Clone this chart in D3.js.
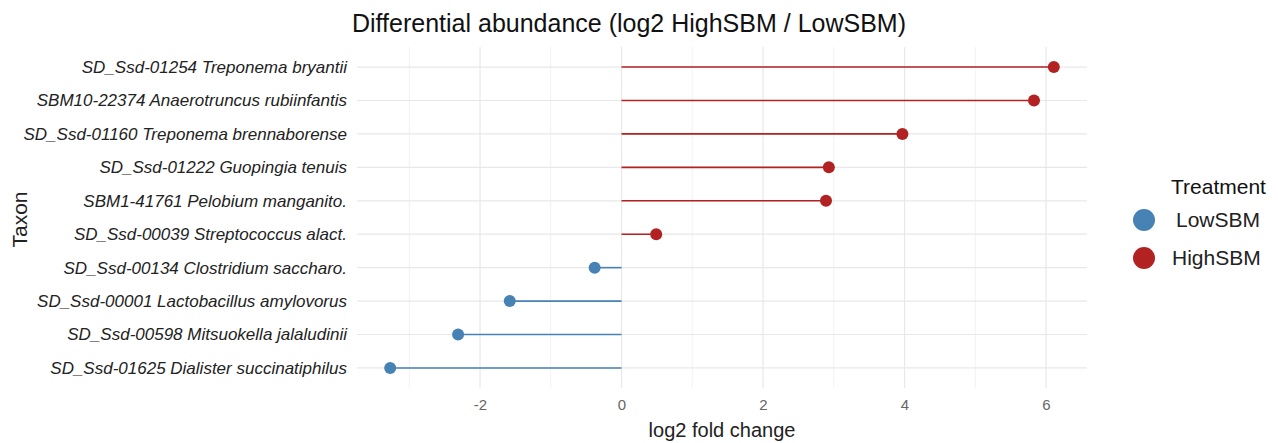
<!DOCTYPE html>
<html>
<head>
<meta charset="utf-8">
<script src="https://cdn.jsdelivr.net/npm/d3@7"></script>
<style>
  body { margin: 0; background: #fff; }
  text { font-family: "Liberation Sans", Arial, sans-serif; }
</style>
</head>
<body>
<div id="chart"></div>
<script>
// Data (top row first)
const taxa = [
    "SD_Ssd-01254 Treponema bryantii",
    "SBM10-22374 Anaerotruncus rubiinfantis",
    "SD_Ssd-01160 Treponema brennaborense",
    "SD_Ssd-01222 Guopingia tenuis",
    "SBM1-41761 Pelobium manganito.",
    "SD_Ssd-00039 Streptococcus alact.",
    "SD_Ssd-00134 Clostridium saccharo.",
    "SD_Ssd-00001 Lactobacillus amylovorus",
    "SD_Ssd-00598 Mitsuokella jalaludinii",
    "SD_Ssd-01625 Dialister succinatiphilus"
];
const log2fc = [6.11, 5.83, 3.97, 2.93, 2.89, 0.49, -0.38, -1.58, -2.31, -3.27];
const groups = ["LowSBM", "HighSBM"];
const groupColors = ["#4682B4", "#B22222"];
const majorTicks = [-2, 0, 2, 4, 6];
const minorTicks = [-3, -1, 1, 3, 5];

const data = taxa.map((t, i) => ({
    taxon: t,
    value: log2fc[i],
    group: log2fc[i] >= 0 ? "HighSBM" : "LowSBM"
}));

const W = 1278, H = 443;
const margin = { top: 47, right: 191, bottom: 55, left: 357 };
const width = W - margin.left - margin.right;
const height = H - margin.top - margin.bottom;

const svg = d3.select("#chart").append("svg")
    .attr("width", W)
    .attr("height", H);

const g = svg.append("g")
    .attr("transform", "translate(" + margin.left + "," + margin.top + ")");

// ggplot-like 5% expansion on x
const ext = d3.extent(log2fc);
const pad = (ext[1] - ext[0]) * 0.05;
const x = d3.scaleLinear()
    .domain([ext[0] - pad, ext[1] + pad])
    .range([0, width]);

const y = d3.scalePoint()
    .domain(taxa)
    .range([0, height])
    .padding(0.6);

const color = d3.scaleOrdinal().domain(groups).range(groupColors);

// grid
g.append("g").selectAll("line.minor")
    .data(minorTicks)
    .join("line")
    .attr("x1", d => x(d)).attr("x2", d => x(d))
    .attr("y1", 0).attr("y2", height)
    .attr("stroke", "#f2f2f2")
    .attr("stroke-width", 1);

g.append("g").selectAll("line.major")
    .data(majorTicks)
    .join("line")
    .attr("x1", d => x(d)).attr("x2", d => x(d))
    .attr("y1", 0).attr("y2", height)
    .attr("stroke", "#e8e8e8")
    .attr("stroke-width", 1.2);

g.append("g").selectAll("line.hgrid")
    .data(taxa)
    .join("line")
    .attr("x1", 0).attr("x2", width)
    .attr("y1", d => y(d)).attr("y2", d => y(d))
    .attr("stroke", "#e8e8e8")
    .attr("stroke-width", 1.2);

// x axis
const xAxis = d3.axisBottom(x)
    .tickValues(majorTicks)
    .tickFormat(d => String(d))
    .tickSize(0)
    .tickPadding(11);
g.append("g")
    .attr("transform", "translate(0," + height + ")")
    .call(xAxis)
    .call(a => a.select(".domain").remove())
    .selectAll("text")
    .style("font-size", "15px")
    .attr("fill", "#666");

// y axis
const yAxis = d3.axisLeft(y).tickSize(0).tickPadding(10);
g.append("g")
    .call(yAxis)
    .call(a => a.select(".domain").remove())
    .selectAll("text")
    .style("font-size", "17px")
    .style("font-style", "italic")
    .attr("fill", "#222");

// lollipops
g.selectAll("line.stem")
    .data(data)
    .join("line")
    .attr("x1", x(0))
    .attr("x2", d => x(d.value))
    .attr("y1", d => y(d.taxon))
    .attr("y2", d => y(d.taxon))
    .attr("stroke", d => color(d.group))
    .attr("stroke-width", 1.6);

g.selectAll("circle.dot")
    .data(data)
    .join("circle")
    .attr("cx", d => x(d.value))
    .attr("cy", d => y(d.taxon))
    .attr("r", 6)
    .attr("fill", d => color(d.group));

// title
svg.append("text")
    .attr("x", 629)
    .attr("y", 32)
    .attr("text-anchor", "middle")
    .style("font-size", "25px")
    .attr("fill", "#111")
    .text("Differential abundance (log2 HighSBM / LowSBM)");

// axis titles
svg.append("text")
    .attr("x", margin.left + width / 2)
    .attr("y", 437)
    .attr("text-anchor", "middle")
    .style("font-size", "20px")
    .attr("fill", "#222")
    .text("log2 fold change");

svg.append("text")
    .attr("transform", "rotate(-90)")
    .attr("x", -(margin.top + height / 2) - 2)
    .attr("y", 27)
    .attr("text-anchor", "middle")
    .style("font-size", "21px")
    .attr("fill", "#222")
    .text("Taxon");

// legend
const legend = svg.append("g").attr("transform", "translate(1144,0)");
legend.append("text")
    .attr("x", 27)
    .attr("y", 194)
    .style("font-size", "21px")
    .attr("fill", "#111")
    .text("Treatment");

const items = legend.selectAll("g.item")
    .data(groups)
    .join("g")
    .attr("transform", (d, i) => "translate(0," + (220 + i * 38) + ")");
items.append("circle")
    .attr("r", 11)
    .attr("fill", d => color(d));
items.append("text")
    .attr("x", d => d === "LowSBM" ? 32 : 28)
    .attr("dy", "0.35em")
    .style("font-size", "21px")
    .attr("fill", "#222")
    .text(d => d);
</script>
</body>
</html>
